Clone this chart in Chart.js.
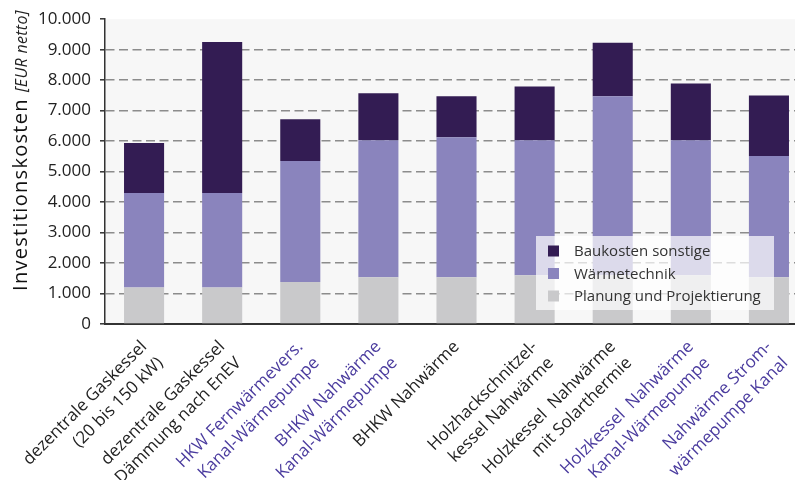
<!DOCTYPE html>
<html lang="de">
<head>
<meta charset="utf-8">
<title>Investitionskosten</title>
<script src="https://cdn.jsdelivr.net/npm/chart.js@4/dist/chart.umd.min.js"></script>
<style>
  html, body { margin: 0; padding: 0; overflow: hidden; background: #fff; }
  #wrap { width: 808px; height: 480px; }
</style>
</head>
<body>
<div id="wrap"><canvas id="c" width="808" height="480"></canvas></div>
<script>
// Kategorien (zweizeilige Beschriftung)
const categories = [
  ["dezentrale Gaskessel", "(20 bis 150 kW)"],
  ["dezentrale Gaskessel", "Dämmung nach EnEV"],
  ["HKW Fernwärmevers.", "Kanal-Wärmepumpe"],
  ["BHKW Nahwärme", "Kanal-Wärmepumpe"],
  ["BHKW Nahwärme"],
  ["Holzhackschnitzel-", "kessel Nahwärme"],
  ["Holzkessel  Nahwärme", "mit Solarthermie"],
  ["Holzkessel  Nahwärme", "Kanal-Wärmepumpe"],
  ["Nahwärme Strom-", "wärmepumpe Kanal"]
];
// Varianten mit Kanal-Wärmepumpe werden farbig beschriftet
const highlighted = [2, 3, 7, 8];

// Kostenanteile in EUR netto
const planung   = [1200, 1200, 1380, 1530, 1530, 1600, 1600, 1600, 1530];
const waerme    = [3100, 3100, 3970, 4500, 4600, 4430, 5870, 4430, 3980];
const baukosten = [1640, 4950, 1370, 1540, 1340, 1760, 1760, 1860, 1990];

const yTicks = [0, 1000, 2000, 3000, 4000, 5000, 6000, 7000, 8000, 9000, 10000];

const C_DARK = '#331c53';
const C_MID = '#8a84bd';
const C_GREY = '#c9c9cb';
const C_TEXT = '#222222';
const C_HIGHLIGHT = '#4a3b9e';
const FONT = "'Open Sans', 'DejaVu Sans', sans-serif";

const plotBackground = {
  id: 'plotBackground',
  beforeDraw(chart) {
    const { ctx, chartArea: a } = chart;
    ctx.save();
    ctx.fillStyle = '#f7f7f7';
    ctx.fillRect(a.left, a.top, a.right - a.left, a.bottom - a.top);
    ctx.restore();
  }
};

// Achsentitel mit kursivem Einheitenzusatz
const axisTitle = {
  id: 'axisTitle',
  afterDraw(chart) {
    const { ctx } = chart;
    ctx.save();
    ctx.translate(27, 291);
    ctx.rotate(-Math.PI / 2);
    ctx.fillStyle = '#111';
    ctx.textBaseline = 'alphabetic';
    ctx.textAlign = 'left';
    ctx.font = `20px ${FONT}`;
    if ('letterSpacing' in ctx) ctx.letterSpacing = '1.3px';
    const main = 'Investitionskosten';
    ctx.fillText(main, 0, 0);
    const w = ctx.measureText(main).width;
    if ('letterSpacing' in ctx) ctx.letterSpacing = '0.3px';
    ctx.fillStyle = C_TEXT;
    ctx.font = `italic 16px ${FONT}`;
    ctx.fillText('[EUR netto]', w + 6, 0);
    ctx.restore();
  }
};

// Legende halbtransparent im Diagrammbereich
const boxLegend = {
  id: 'boxLegend',
  afterDraw(chart) {
    const { ctx } = chart;
    const x0 = 536, y0 = 236, w = 238, h = 74;
    ctx.save();
    ctx.fillStyle = 'rgba(255,255,255,0.7)';
    ctx.fillRect(x0, y0, w, h);
    const items = chart.data.datasets.slice().reverse();
    ctx.font = `15px ${FONT}`;
    ctx.textBaseline = 'middle';
    ctx.textAlign = 'left';
    items.forEach((ds, i) => {
      const cy = y0 + 15 + i * 22.5;
      ctx.fillStyle = ds.backgroundColor;
      ctx.fillRect(x0 + 12, cy - 5.5, 11, 11);
      ctx.fillStyle = '#333';
      ctx.fillText(ds.label, x0 + 38, cy + 1);
    });
    ctx.restore();
  }
};

new Chart(document.getElementById('c'), {
  type: 'bar',
  data: {
    labels: categories,
    datasets: [
      { label: 'Planung und Projektierung', data: planung, backgroundColor: C_GREY },
      { label: 'Wärmetechnik', data: waerme, backgroundColor: C_MID },
      { label: 'Baukosten sonstige', data: baukosten, backgroundColor: C_DARK }
    ]
  },
  options: {
    responsive: false,
    animation: false,
    devicePixelRatio: 1,
    layout: { padding: { top: 17, left: 0, right: 0, bottom: 0 } },
    datasets: { bar: { barPercentage: 1, categoryPercentage: 0.513, borderWidth: 0 } },
    plugins: { legend: { display: false }, tooltip: { enabled: false } },
    scales: {
      x: {
        stacked: true,
        grid: { display: false },
        border: { display: true, color: '#333', width: 2 },
        ticks: {
          maxRotation: 45,
          minRotation: 45,
          autoSkip: false,
          padding: 4,
          font: { family: FONT, size: 17, lineHeight: 1.35 },
          color: (c) => highlighted.includes(c.index) ? C_HIGHLIGHT : C_TEXT
        },
        afterFit(scale) { scale.height = 156; }
      },
      y: {
        stacked: true,
        min: 0,
        max: 10000,
        afterBuildTicks(scale) { scale.ticks = yTicks.map(v => ({ value: v })); },
        grid: {
          color: (c) => (c.tick && (c.tick.value === 0 || c.tick.value === 10000)) ? 'rgba(0,0,0,0)' : '#8c8c8c',
          lineWidth: 1.6,
          tickColor: '#333',
          tickLength: 5,
          tickWidth: 1.5
        },
        border: { display: true, color: '#333', width: 1.5, dash: [9, 4.5] },
        ticks: {
          padding: 9,
          font: { family: FONT, size: 17 },
          color: C_TEXT,
          callback: (v) => v.toLocaleString('de-DE')
        },
        afterFit(scale) { scale.width = 105; }
      }
    }
  },
  plugins: [plotBackground, axisTitle, boxLegend]
});
</script>
</body>
</html>
